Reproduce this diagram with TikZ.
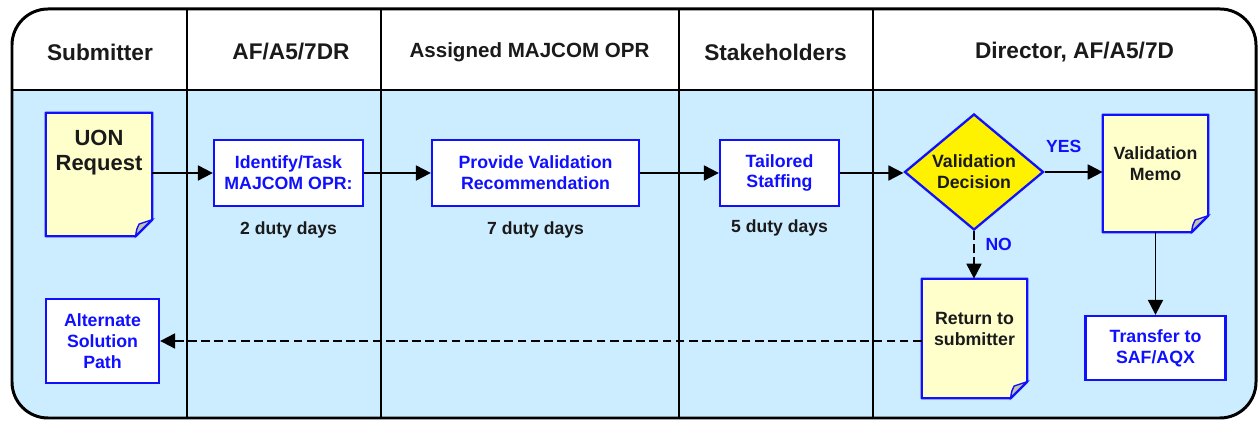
\documentclass[tikz,border=0pt]{standalone}
\usepackage{fontspec}
\setmainfont{Liberation Sans}
\usetikzlibrary{arrows.meta,positioning,shapes.geometric}

\definecolor{laneblue}{HTML}{CCECFF}
\definecolor{docyellow}{HTML}{FFFFCC}
\definecolor{linkblue}{HTML}{1010FF}
\definecolor{headblack}{HTML}{1A1A1A}
\definecolor{foldgray}{HTML}{C4C4A8}

% outline and curled corner of a page node
\newcommand{\docpage}[1]{%
	\fill[laneblue] (#1.south east) -- ([yshift=9.5pt]#1.south east) -- ([xshift=-9.5pt]#1.south east) -- cycle;
	\filldraw[fill=foldgray, draw=linkblue, line width=0.8pt] ([xshift=-9.5pt]#1.south east) .. controls ([xshift=-9pt,yshift=4pt]#1.south east) .. ([xshift=-7.5pt,yshift=7pt]#1.south east) -- ([yshift=9.5pt]#1.south east) -- cycle;
	\draw[draw=linkblue, line width=1.3pt, line join=round] (#1.north west) -- (#1.north east) -- ([yshift=9.5pt]#1.south east) -- ([xshift=-9.5pt]#1.south east) -- (#1.south west) -- cycle;
}

\begin{document}
\begin{tikzpicture}[x=0.02cm, y=-0.02cm,
	lane/.style={text=headblack, font=\bfseries\fontsize{12.9}{15}\selectfont},
	task/.style={draw=linkblue, line width=1.3pt, fill=white, text=linkblue, align=center, inner sep=1pt, font=\bfseries\fontsize{10.1}{11.9}\selectfont},
	page/.style={fill=docyellow, inner sep=0pt},
	pagetext/.style={text=headblack, align=center, inner sep=0pt, font=\bfseries\fontsize{10.1}{11.9}\selectfont},
	decision/.style={diamond, aspect=1.2, draw=linkblue, line width=1.3pt, fill=yellow, inner sep=0pt, align=center, text=headblack, font=\bfseries\fontsize{10.1}{11.9}\selectfont},
	dur/.style={text=headblack, inner sep=1pt, font=\bfseries\fontsize{10}{12}\selectfont},
	answer/.style={text=linkblue, inner sep=1pt, font=\bfseries\fontsize{10}{12}\selectfont},
	flow/.style={-{Triangle[length=8.5pt,width=8.5pt]}, line width=1.1pt},
	back/.style={flow, dash pattern=on 5pt off 2.5pt}]
	\useasboundingbox (0,0) rectangle (1259,421);
	\begin{scope}
		\clip[rounded corners=0.72cm] (12,9) rectangle (1256,418);
		\fill[laneblue] (12,9) rectangle (1256,418);
		\fill[white] (12,9) rectangle (1256,90);
	\end{scope}
	\foreach \x in {187,381,679,873}
		\draw[line width=1.2pt] (\x,9) -- (\x,418);
	\draw[line width=1.2pt] (12,90) -- (1256,90);
	\draw[line width=1.7pt, rounded corners=0.72cm] (12,9) rectangle (1256,418);
	% lane titles
	\node[lane] (hsub) at (100,52) {Submitter};
	\node[lane] (hdr) at (291,52) {AF/A5/7DR};
	\node[lane, font=\bfseries\fontsize{11.7}{14}\selectfont] (hopr) at (529.5,52) {Assigned MAJCOM OPR};
	\node[lane] (hstake) at (775.5,52) {Stakeholders};
	\node[lane] (hdir) at (1074.5,52) {Director, AF/A5/7D};
	% steps
	\node[page, minimum width=2.12cm, minimum height=2.46cm] (uon) at (99,174.5) {};
	\node[pagetext, font=\bfseries\fontsize{12.5}{14.7}\selectfont, below=9.5pt of uon.north] (uontext) {UON\\Request};
	\node[task, minimum width=2.98cm, minimum height=1.32cm] (ident) at (288.5,173) {Identify/Task\\MAJCOM OPR:};
	\node[task, minimum width=4.14cm, minimum height=1.32cm] (prov) at (535.5,173) {Provide Validation\\Recommendation};
	\node[task, minimum width=2.38cm, minimum height=1.32cm] (tail) at (779.5,173) {Tailored\\Staffing};
	\node[decision, minimum width=2.78cm, minimum height=2.32cm] (dec) at (974,172) {Validation\\Decision};
	\node[page, minimum width=2.1cm, minimum height=2.34cm] (memo) at (1155.5,173.5) {};
	\node[pagetext, below=18pt of memo.north] (memotext) {Validation\\Memo};
	\node[page, minimum width=2.1cm, minimum height=2.38cm] (ret) at (974.5,338.5) {};
	\node[pagetext, below=19pt of ret.north] (rettext) {Return to\\submitter};
	\node[task, minimum width=2.8cm, minimum height=1.28cm] (trans) at (1155.5,348) {Transfer to\\SAF/AQX};
	\node[task, minimum width=2.26cm, minimum height=1.68cm] (alt) at (102.5,341) {Alternate\\Solution\\Path};
	\docpage{uon}
	\docpage{memo}
	\docpage{ret}
	% durations
	\node[dur, below=7pt of ident] (d2) {2 duty days};
	\node[dur, below=7pt of prov] (d7) {7 duty days};
	\node[dur, below=6pt of tail] (d5) {5 duty days};
	% connectors
	\draw[flow] (uon.east |- ident.west) -- (ident.west);
	\draw[flow] (ident.east) -- (prov.west);
	\draw[flow] (prov.east) -- (tail.west);
	\draw[flow] (tail.east) -- (tail.east -| dec.west);
	\draw[flow] (dec.east) -- node[answer, above=9.5pt, pos=0.33] (yes) {YES} (dec.east -| memo.west);
	\draw[back] (dec.south) -- node[answer, right=5pt, pos=0.27] (no) {NO} (dec.south |- ret.north);
	\draw[flow] (memo.south) -- (trans.north);
	\draw[back] (ret.west |- alt.east) -- (alt.east);
\end{tikzpicture}
\end{document}
